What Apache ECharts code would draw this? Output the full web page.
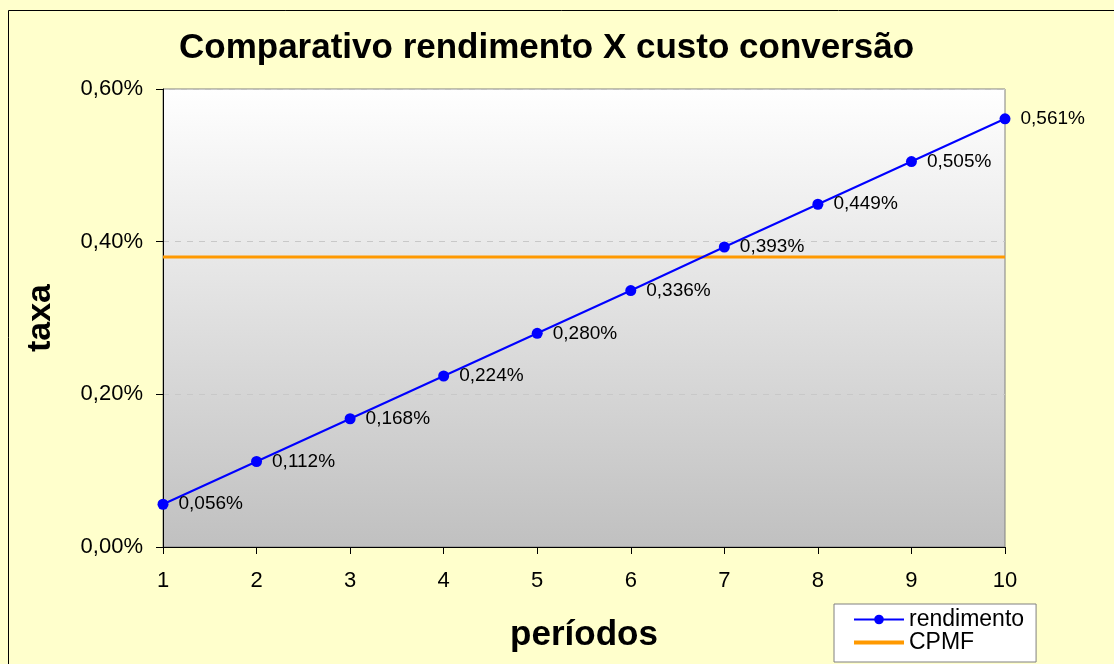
<!DOCTYPE html>
<html>
<head>
<meta charset="utf-8">
<script src="https://cdn.jsdelivr.net/npm/echarts@6/dist/echarts.min.js"></script>
<style>
html,body{margin:0;padding:0;background:#FFFFCC;}
#chart{width:1114px;height:664px;}
</style>
</head>
<body>
<div id="chart"></div>
<script>
const periods = ['1','2','3','4','5','6','7','8','9','10'];
const rendimento = [0.056, 0.112, 0.168, 0.224, 0.280, 0.336, 0.393, 0.449, 0.505, 0.561];
const cpmf = [0.38, 0.38, 0.38, 0.38, 0.38, 0.38, 0.38, 0.38, 0.38, 0.38];
const yTicks = [0, 0.2, 0.4, 0.6];

const fmt = (v, d) => v.toFixed(d).replace('.', ',') + '%';
const font = 'Liberation Sans, Arial, sans-serif';

const chart = echarts.init(document.getElementById('chart'));
chart.setOption({
  backgroundColor: '#FFFFCC',
  animation: false,
  textStyle: { fontFamily: font },
  title: {
    text: 'Comparativo rendimento X custo conversão',
    left: 174, top: 26,
    textStyle: { fontFamily: font, fontSize: 35, fontWeight: 'bold', color: '#000' }
  },
  graphic: [{
    type: 'rect', silent: true, z: 100,
    shape: { x: 8.5, y: 10.5, width: 1200, height: 800 },
    style: { fill: 'none', stroke: '#000', lineWidth: 1 }
  }],
  legend: {
    orient: 'vertical',
    left: 834, top: 604,
    backgroundColor: '#fff',
    borderColor: '#808080', borderWidth: 1,
    borderRadius: 0,
    padding: [4, 12, 8, 18],
    itemGap: 0,
    itemWidth: 50, itemHeight: 12,
    textStyle: { fontFamily: font, fontSize: 23, color: '#000' },
    data: [
      { name: 'rendimento' },
      { name: 'CPMF', itemStyle: { opacity: 0 }, lineStyle: { width: 4 } }
    ]
  },
  grid: {
    left: 163, right: 109, top: 89, bottom: 117,
    show: true,
    borderColor: '#808080', borderWidth: 1,
    backgroundColor: new echarts.graphic.LinearGradient(0, 0, 0, 1, [
      { offset: 0, color: '#ffffff' },
      { offset: 1, color: '#c0c0c0' }
    ])
  },
  xAxis: {
    type: 'category',
    data: periods,
    boundaryGap: false,
    name: 'períodos',
    nameLocation: 'middle',
    nameGap: 71,
    nameTextStyle: { fontFamily: font, fontSize: 35, fontWeight: 'bold', color: '#000' },
    axisLine: { lineStyle: { color: '#000', width: 1 } },
    axisTick: { alignWithLabel: true, length: 7, lineStyle: { color: '#000' } },
    axisLabel: { fontFamily: font, fontSize: 22, color: '#000', margin: 23 },
    splitLine: { show: false }
  },
  yAxis: {
    type: 'value',
    min: 0, max: 0.6, interval: 0.2,
    name: 'taxa',
    nameLocation: 'middle',
    nameGap: 105,
    nameRotate: 90,
    nameTextStyle: { fontFamily: font, fontSize: 34, fontWeight: 'bold', color: '#000' },
    axisLine: { show: true, lineStyle: { color: '#000', width: 1 } },
    axisTick: { show: true, length: 7, lineStyle: { color: '#000' } },
    axisLabel: { fontFamily: font, fontSize: 22, color: '#000', margin: 20,
      formatter: v => fmt(v, 2) },
    splitLine: { show: true, lineStyle: { color: '#c8c8c8', type: [6, 6], width: 1 } }
  },
  series: [
    {
      name: 'rendimento',
      type: 'line',
      data: rendimento,
      color: '#0000FF',
      lineStyle: { color: '#0000FF', width: 2 },
      symbol: 'circle', symbolSize: 11,
      itemStyle: { color: '#0000FF' },
      z: 3,
      label: {
        show: true, position: 'right', distance: 10,
        fontFamily: font, fontSize: 19, color: '#000',
        formatter: p => fmt(p.value, 3)
      }
    },
    {
      name: 'CPMF',
      type: 'line',
      data: cpmf,
      color: '#FF9900',
      lineStyle: { color: '#FF9900', width: 3 },
      symbol: 'none',
      z: 2
    }
  ]
});
</script>
</body>
</html>
